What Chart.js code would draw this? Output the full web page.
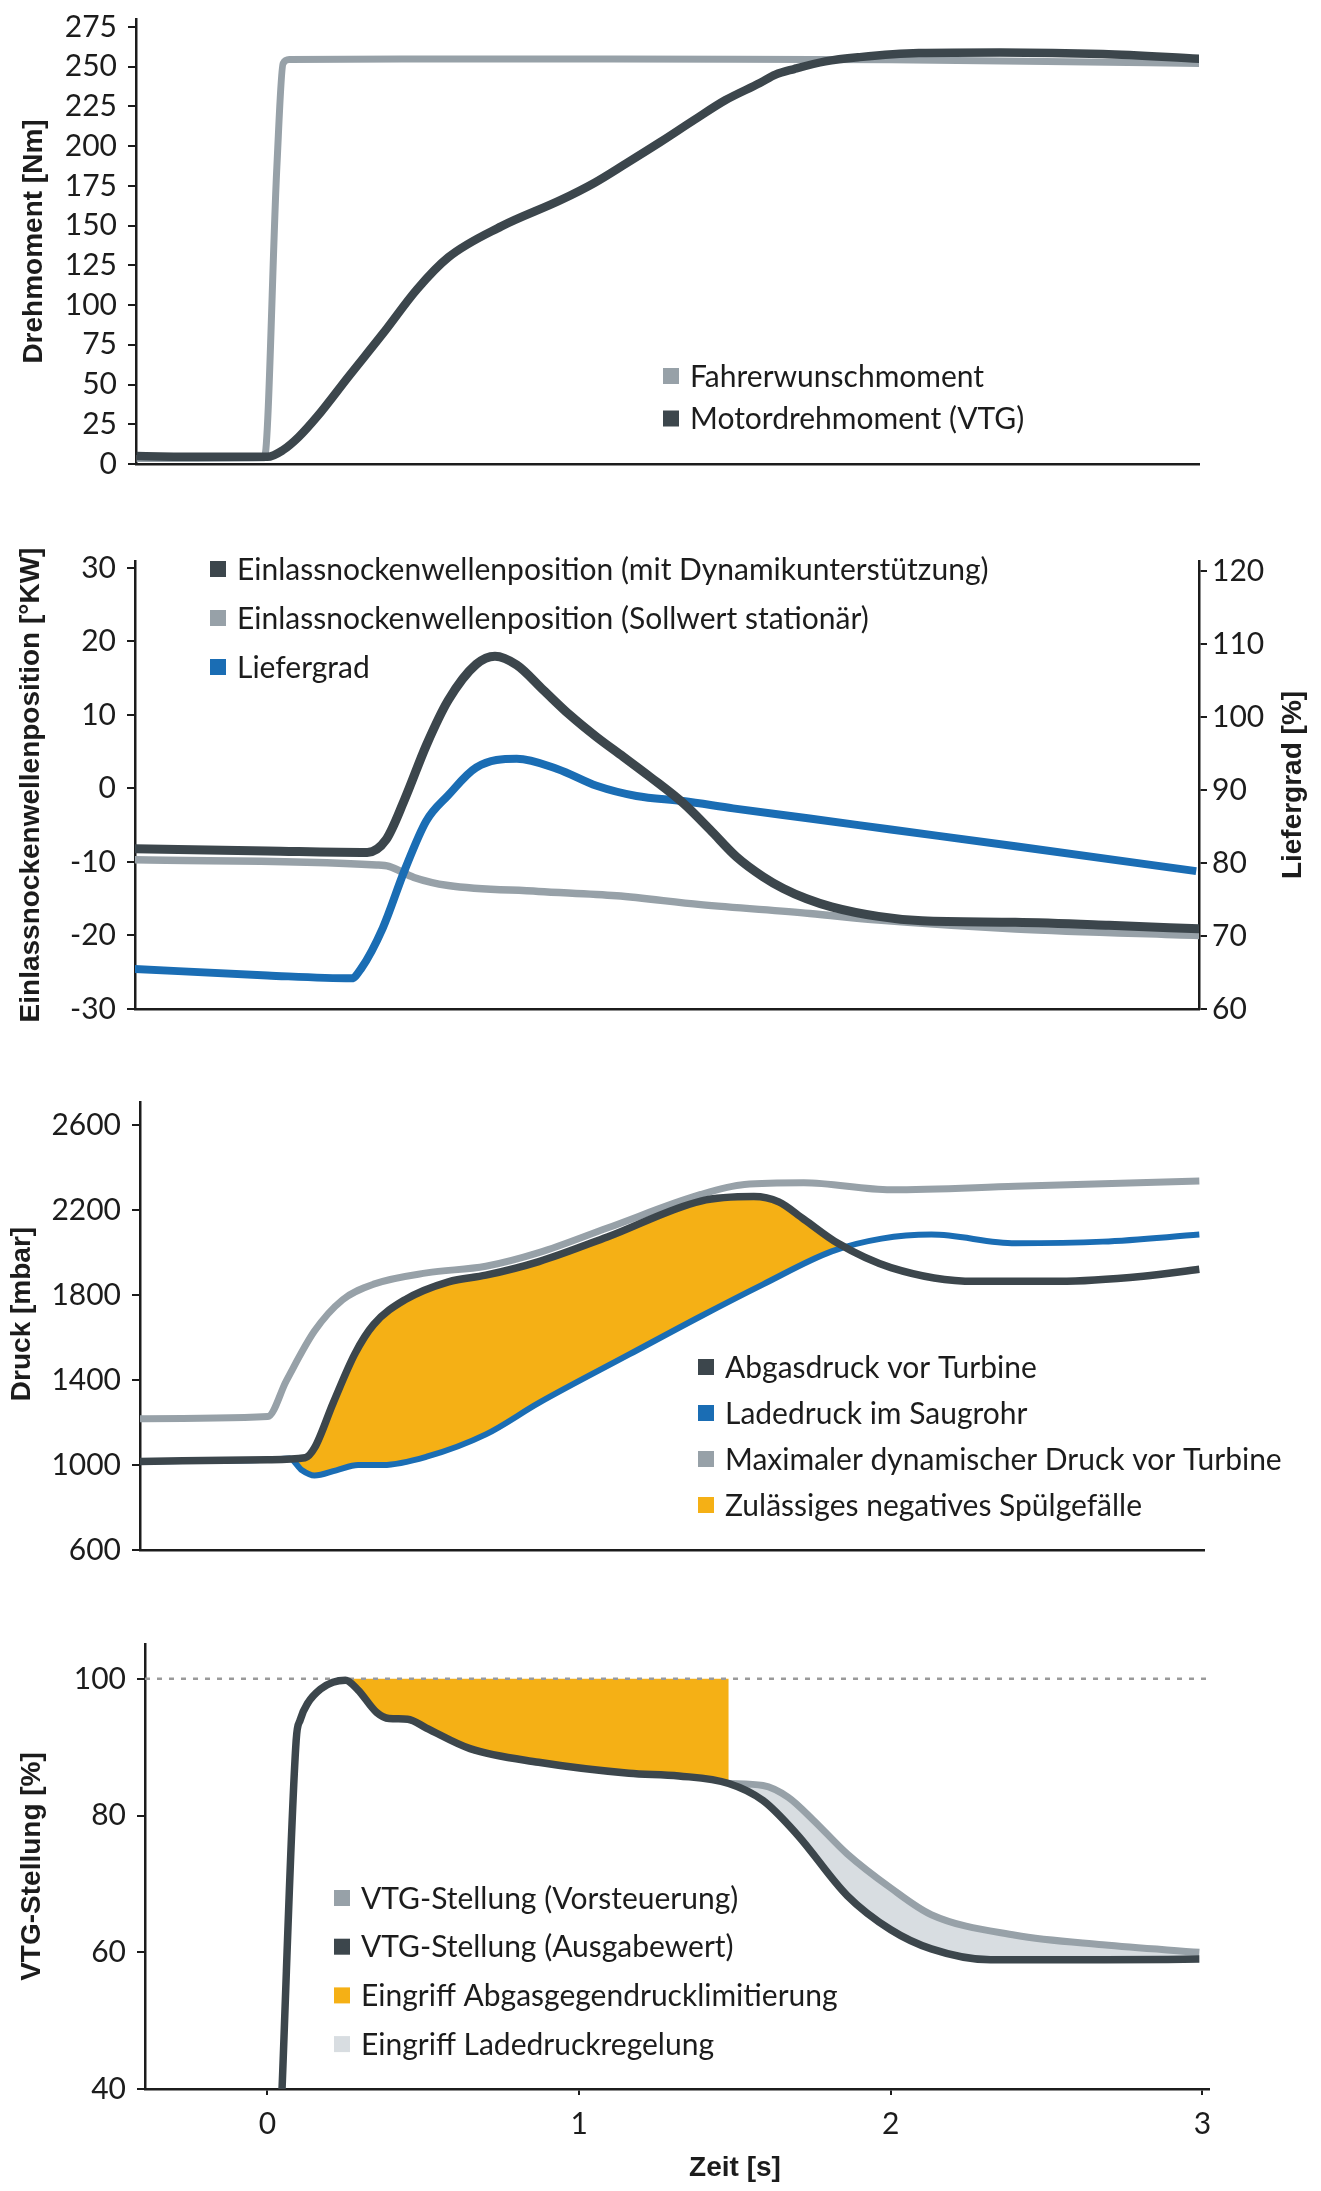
<!DOCTYPE html>
<html lang="de">
<head>
<meta charset="utf-8">
<title>Drehmoment, Nockenwelle, Druck und VTG-Stellung</title>
<script src="https://cdn.jsdelivr.net/npm/chart.js@4.4.1/dist/chart.umd.min.js"></script>
<style>
  html, body { margin: 0; padding: 0; background: #fff; }
  #page { position: relative; width: 1321px; height: 2191px; }
  canvas { position: absolute; left: 0; }
</style>
</head>
<body>
<div id="page">
  <canvas id="torque" width="1321" height="500" style="top:0px"></canvas>
  <canvas id="cam" width="1321" height="540" style="top:520px"></canvas>
  <canvas id="pressure" width="1321" height="540" style="top:1060px"></canvas>
  <canvas id="vtg" width="1321" height="591" style="top:1600px"></canvas>
</div>
<script>
// ---- data (Zeit [s] / Wert) ----
const timeTicks = [0, 1, 2, 3];

// Drehmoment
const torqueTicks = [0, 25, 50, 75, 100, 125, 150, 175, 200, 225, 250, 275];
const torqueLabels = ['Fahrerwunschmoment', 'Motordrehmoment (VTG)'];
const wunschX = [-0.42, -0.01, 0.03, 0.05, 0.07, 0.5, 1.0, 1.5, 2.0, 2.5, 2.99];
const wunschY = [3.5, 4, 187, 252, 254.5, 254.8, 254.8, 254.7, 254.3, 253.3, 252];
const motorX = [-0.42, -0.2, 0, 0.05, 0.1, 0.16, 0.26, 0.37, 0.48, 0.58, 0.75, 0.94, 1.05, 1.15, 1.26, 1.37, 1.47, 1.58, 1.63, 1.69, 1.79, 1.9, 2.09, 2.35, 2.68, 2.99];
const motorY = [5, 4.5, 4.5, 8.8, 17, 30, 55, 82, 110, 130, 149.5, 166, 177, 189, 202.5, 216.6, 229, 239.7, 245, 248.5, 253.3, 256, 258.6, 259, 258, 255];

// Einlassnockenwelle / Liefergrad
const camTicks = [-30, -20, -10, 0, 10, 20, 30];
const lieferTicks = [60, 70, 80, 90, 100, 110, 120];
const camLabels = ['Einlassnockenwellenposition (mit Dynamikunterstützung)', 'Einlassnockenwellenposition (Sollwert stationär)', 'Liefergrad'];
const camDynX = [-0.43, 0.0, 0.32, 0.38, 0.44, 0.51, 0.58, 0.67, 0.73, 0.80, 0.885, 0.97, 1.056, 1.142, 1.227, 1.334, 1.42, 1.505, 1.59, 1.655, 1.73, 1.81, 1.96, 2.1, 2.4, 2.7, 2.99];
const camDynY = [-8.2, -8.5, -8.7, -7.0, -1.5, 5.9, 12.0, 16.9, 18.0, 16.8, 13.4, 10.0, 7.0, 4.3, 1.6, -2.0, -5.6, -9.3, -12.0, -13.6, -15.0, -16.1, -17.4, -18.0, -18.2, -18.6, -19.1];
const camSollX = [-0.43, 0.35, 0.39, 0.47, 0.58, 0.87, 1.12, 1.39, 1.74, 1.96, 2.4, 2.99];
const camSollY = [-9.7, -10.4, -10.6, -12.1, -13.2, -14.0, -14.6, -15.8, -17.0, -17.9, -19.1, -20.0];
const lieferX = [-0.43, 0.0, 0.27, 0.3, 0.37, 0.44, 0.51, 0.58, 0.67, 0.80, 0.93, 1.056, 1.184, 1.334, 1.494, 1.74, 2.0, 2.4, 2.98];
const lieferY = [65.5, 64.6, 64.2, 65.5, 71.1, 79.0, 85.8, 89.3, 93.1, 94.3, 92.9, 90.6, 89.2, 88.5, 87.5, 86.1, 84.6, 82.3, 78.9];

// Druck
const pressureTicks = [600, 1000, 1400, 1800, 2200, 2600];
const pressureLabels = ['Abgasdruck vor Turbine', 'Ladedruck im Saugrohr', 'Maximaler dynamischer Druck vor Turbine', 'Zulässiges negatives Spülgefälle'];
const abgasX = [-0.41, 0.0, 0.12, 0.15, 0.21, 0.28, 0.34, 0.44, 0.58, 0.70, 0.87, 1.09, 1.39, 1.56, 1.64, 1.72, 1.83, 2.0, 2.27, 2.54, 2.81, 2.99];
const abgasY = [1017, 1025, 1034, 1080, 1292, 1524, 1661, 1777, 1862, 1893, 1957, 2073, 2242, 2263, 2238, 2157, 2043, 1929, 1864, 1864, 1888, 1921];
const ladeX = [-0.41, 0.0, 0.07, 0.11, 0.15, 0.22, 0.29, 0.37, 0.51, 0.70, 0.87, 1.16, 1.39, 1.59, 1.81, 1.97, 2.13, 2.4, 2.68, 2.99];
const ladeY = [1017, 1025, 1030, 975, 950, 975, 1000, 1000, 1039, 1144, 1292, 1520, 1700, 1850, 2005, 2065, 2084, 2043, 2051, 2084];
const maxDynX = [-0.41, 0.0, 0.06, 0.15, 0.24, 0.34, 0.51, 0.70, 0.87, 1.09, 1.39, 1.53, 1.72, 2.0, 2.4, 2.99];
const maxDynY = [1218, 1228, 1397, 1630, 1777, 1851, 1904, 1935, 1999, 2115, 2273, 2320, 2328, 2295, 2311, 2336];

// VTG-Stellung
const vtgTicks = [40, 60, 80, 100];
const vtgLabels = ['VTG-Stellung (Vorsteuerung)', 'VTG-Stellung (Ausgabewert)', 'Eingriff Abgasgegendrucklimitierung', 'Eingriff Ladedruckregelung'];
const ausgabeX = [0.045, 0.092, 0.105, 0.13, 0.17, 0.21, 0.25, 0.29, 0.35, 0.39, 0.45, 0.51, 0.65, 0.87, 1.16, 1.32, 1.48, 1.59, 1.70, 1.86, 2.0, 2.13, 2.32, 2.68, 2.99];
const ausgabeY = [38, 91, 94, 96.5, 98.5, 99.5, 99.8, 98.4, 95.1, 94.2, 94.1, 92.8, 89.8, 87.8, 86.2, 85.8, 84.7, 82.2, 77.2, 68.3, 63.3, 60.5, 58.9, 58.9, 59.0];
const vorsteuerX = [1.48, 1.59, 1.67, 1.75, 1.86, 2.0, 2.13, 2.4, 2.68, 2.99];
const vorsteuerY = [84.7, 84.4, 82.7, 79.4, 74.4, 69.4, 65.5, 62.5, 61.1, 60.0];
const limitX = [0.25, 1.48];
const limitY = [100, 100];
const vtgMax = 100;

// ---- styles ----
const INK = '#1c1c1c';
const DARK = '#3c464c';
const GRAY = '#97a1a8';
const BLUE = '#1a6db4';
const ORANGE = '#f5b015';
const LIGHT = '#d8dde1';
const TEXT_FAMILY = 'Lato, "Open Sans", sans-serif';
const TICK_FONT = { family: TEXT_FAMILY, size: 30 };

function pts(xs, ys) {
  return xs.map((x, i) => ({ x, y: ys[i] }));
}

// legend drawn at a fixed spot inside the panel
function legendPlugin(cfg) {
  return {
    id: 'legendBox',
    afterDraw(chart) {
      const ctx = chart.ctx;
      ctx.save();
      ctx.font = '30px ' + TEXT_FAMILY;
      ctx.textBaseline = 'middle';
      ctx.textAlign = 'left';
      cfg.labels.forEach((text, i) => {
        const y = cfg.y + i * cfg.gap;
        ctx.fillStyle = cfg.colors[i];
        ctx.fillRect(cfg.x, y - 8, 16, 16);
        ctx.fillStyle = INK;
        ctx.fillText(text, cfg.x + 27, y + 1);
      });
      ctx.restore();
    }
  };
}

// axis titles (right title reads bottom-to-top like the left one)
function titlePlugin(items) {
  return {
    id: 'axisTitles',
    afterDraw(chart) {
      const ctx = chart.ctx;
      items.forEach(item => {
        const scale = chart.scales[item.scale];
        ctx.save();
        ctx.font = 'bold 28px "Liberation Sans", Arial, sans-serif';
        ctx.fillStyle = INK;
        ctx.textAlign = 'center';
        ctx.textBaseline = 'middle';
        if (scale.isHorizontal()) {
          ctx.fillText(item.text, scale.getPixelForValue(item.at), item.pos);
        } else {
          const cy = (scale.top + scale.bottom) / 2 + (item.shift || 0);
          ctx.translate(item.pos, cy);
          ctx.rotate(-Math.PI / 2);
          ctx.fillText(item.text, 0, 0);
        }
        ctx.restore();
      });
    }
  };
}

function yAxis(position, min, max, ticks, width) {
  return {
    type: 'linear', position, min, max,
    afterBuildTicks: s => { s.ticks = ticks.map(v => ({ value: v })); },
    afterFit: s => { s.width = width; s.paddingTop = 0; s.paddingBottom = 0; },
    grid: { display: true, drawOnChartArea: false, drawTicks: true, tickLength: 8, lineWidth: 2, color: INK },
    border: { display: true, color: INK, width: 2.5 },
    ticks: { padding: position === 'left' ? 11 : 5, color: INK, font: TICK_FONT, callback: v => String(v) }
  };
}

function xAxis(min, max, height, showTicks) {
  return {
    type: 'linear', min, max,
    afterBuildTicks: s => { s.ticks = timeTicks.map(v => ({ value: v })); },
    afterFit: s => { s.height = height; s.paddingLeft = 0; s.paddingRight = 0; },
    grid: { display: showTicks, drawOnChartArea: false, drawTicks: true, tickLength: 6, lineWidth: 2, color: INK },
    border: { display: true, color: INK, width: 2.5 },
    ticks: { display: showTicks, padding: 11, color: INK, font: TICK_FONT, maxRotation: 0, callback: v => String(v) }
  };
}

function line(data, color, width, extra) {
  return Object.assign({ data, borderColor: color, borderWidth: width, pointRadius: 0, fill: false }, extra || {});
}

function makeChart(id, pad, datasets, scales, legend, titles) {
  return new Chart(document.getElementById(id), {
    type: 'line',
    data: { datasets },
    options: {
      responsive: false,
      animation: false,
      devicePixelRatio: 1,
      layout: { padding: { top: pad.top, right: pad.right, left: 0, bottom: 0 } },
      scales,
      elements: { line: { cubicInterpolationMode: 'monotone', borderCapStyle: 'butt', borderJoinStyle: 'round' } },
      plugins: {
        legend: { display: false },
        tooltip: { enabled: false },
        filler: { drawTime: 'beforeDatasetsDraw' }
      }
    },
    plugins: [legendPlugin(legend), titlePlugin(titles)]
  });
}

// 1: Drehmoment
makeChart('torque', { top: 19, right: 122 },
  [
    line(pts(motorX, motorY), DARK, 8.5),
    line(pts(wunschX, wunschY), GRAY, 7)
  ],
  { x: xAxis(-0.422, 2.989, 36, false), y: yAxis('left', 0, 280, torqueTicks, 136) },
  { x: 663, y: 376, gap: 42.5, labels: torqueLabels, colors: [GRAY, DARK] },
  [{ scale: 'y', text: 'Drehmoment [Nm]', pos: 34 }]
);

// 2: Einlassnockenwelle / Liefergrad
makeChart('cam', { top: 41, right: 0 },
  [
    line(pts(camDynX, camDynY), DARK, 9, { yAxisID: 'y' }),
    line(pts(lieferX, lieferY), BLUE, 8, { yAxisID: 'y2' }),
    line(pts(camSollX, camSollY), GRAY, 7.5, { yAxisID: 'y' })
  ],
  {
    x: xAxis(-0.425, 2.989, 51, false),
    y: yAxis('left', -30, 30.95, camTicks, 135),
    y2: yAxis('right', 60, 121.4, lieferTicks, 122)
  },
  { x: 210, y: 49, gap: 49, labels: camLabels, colors: [DARK, GRAY, BLUE] },
  [
    { scale: 'y', text: 'Einlassnockenwellenposition [°KW]', pos: 31 },
    { scale: 'y2', text: 'Liefergrad [%]', pos: 1293 }
  ]
);

// 3: Druck
makeChart('pressure', { top: 42, right: 117 },
  [
    line(pts(abgasX, abgasY), DARK, 7.5, { fill: { target: 1, above: ORANGE, below: 'rgba(0,0,0,0)' } }),
    line(pts(ladeX, ladeY), BLUE, 6),
    line(pts(maxDynX, maxDynY), GRAY, 7)
  ],
  { x: xAxis(-0.41, 3.005, 50, false), y: yAxis('left', 600, 2708, pressureTicks, 140) },
  { x: 698, y: 307, gap: 46, labels: pressureLabels, colors: [DARK, BLUE, GRAY, ORANGE] },
  [{ scale: 'y', text: 'Druck [mbar]', pos: 22, shift: -12 }]
);

// 4: VTG-Stellung
const vtgRange = [-0.393, 3.021];
makeChart('vtg', { top: 44, right: 112 },
  [
    line(pts(ausgabeX, ausgabeY), DARK, 7.5),
    line(pts(vorsteuerX, vorsteuerY), GRAY, 7, { fill: { target: 0, above: LIGHT, below: LIGHT } }),
    line(pts(limitX, limitY), ORANGE, 0, { fill: { target: 0, above: ORANGE, below: ORANGE } }),
    line(pts(vtgRange, [vtgMax, vtgMax]), '#9a9a9a', 2.5, { borderDash: [5, 7], cubicInterpolationMode: 'default' })
  ],
  { x: xAxis(vtgRange[0], vtgRange[1], 102, true), y: yAxis('left', 40, 105.1, vtgTicks, 145) },
  { x: 334, y: 298, gap: 48.7, labels: vtgLabels, colors: [GRAY, DARK, ORANGE, LIGHT] },
  [
    { scale: 'y', text: 'VTG-Stellung [%]', pos: 32 },
    { scale: 'x', text: 'Zeit [s]', pos: 568, at: 1.5 }
  ]
);
</script>
</body>
</html>
